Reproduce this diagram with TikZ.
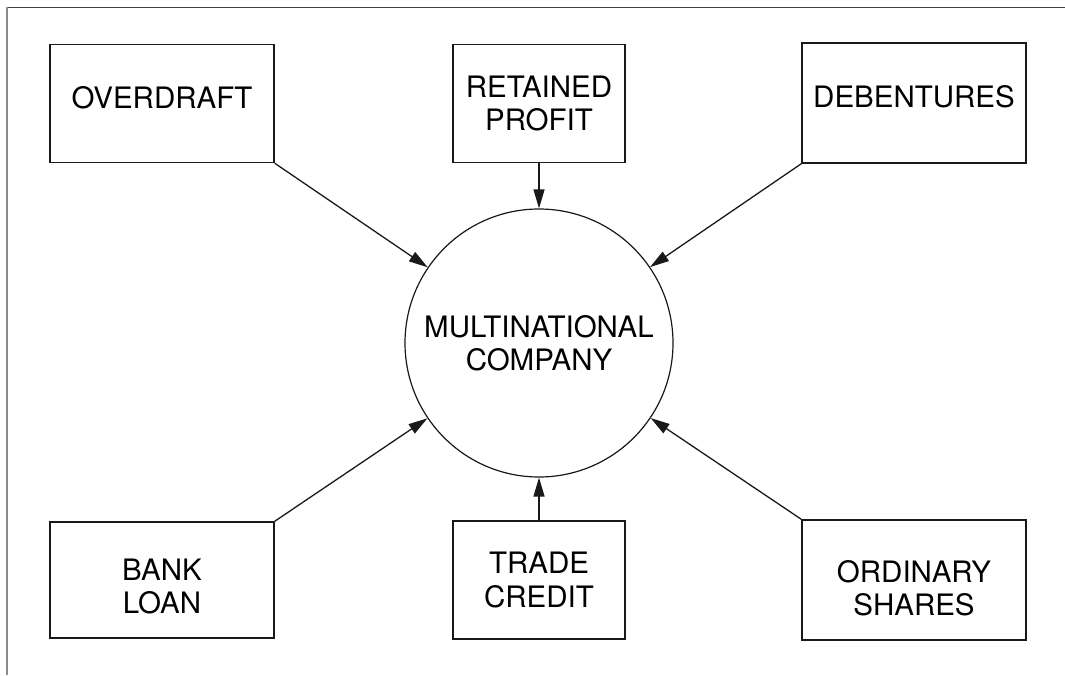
\documentclass[tikz,border=0pt]{standalone}
\usepackage{fontspec}
\setmainfont{TeX Gyre Heros}
\usepackage{tikz}
\usetikzlibrary{shapes,positioning,calc,arrows.meta}

\begin{document}
\begin{tikzpicture}[
    x=1pt, y=-1pt,
    source/.style={draw=black!90, line width=1.5pt, rectangle, inner sep=0pt,
        align=center, font=\fontsize{29.5}{33.5}\selectfont},
    wide/.style={source, minimum width=224pt, minimum height=118pt},
    narrow/.style={source, minimum width=172pt, minimum height=118pt},
    oneline/.style={text depth=13pt},
    firm/.style={draw=black!90, line width=1.2pt, circle, inner sep=0pt,
        minimum size=268pt, align=center, font=\fontsize{29.5}{33.5}\selectfont},
    flow/.style={-{Triangle[length=19pt, width=11pt]}, line width=1.3pt, draw=black!90}
]
    \useasboundingbox (0,0) rectangle (1065,675);

    % Frame (top and left edge only)
    \draw[black!75, line width=0.8pt] (7,7) -- (1065,7);
    \draw[black!45, line width=1.4pt] (7,7) -- (7,675);

    % Company in the middle
    \node[firm] (company) at (539,343) {MULTINATIONAL\\COMPANY};

    % Sources of finance
    \node[wide, oneline] (overdraft) at (162,103.5) {OVERDRAFT};
    \node[narrow] (retained) at (539,103.5) {RETAINED\\PROFIT};
    \node[wide, oneline, minimum height=120pt] (debentures) at (914,103) {DEBENTURES};
    \node[wide, minimum height=116pt, text height=68pt] (bankloan) at (162,580) {BANK\\LOAN};
    \node[narrow] (tradecredit) at (539,580) {TRADE\\CREDIT};
    \node[wide, minimum height=120pt, text height=72pt] (ordinary) at (914,580) {ORDINARY\\SHARES};

    % Arrows into the company
    \draw[flow] (overdraft.south east) -- (company);
    \draw[flow] (retained.south) -- (company.north);
    \draw[flow] (debentures.south west) -- (company);
    \draw[flow] (bankloan.north east) -- (company);
    \draw[flow] (tradecredit.north) -- (company.south);
    \draw[flow] (ordinary.north west) -- (company);
\end{tikzpicture}
\end{document}
